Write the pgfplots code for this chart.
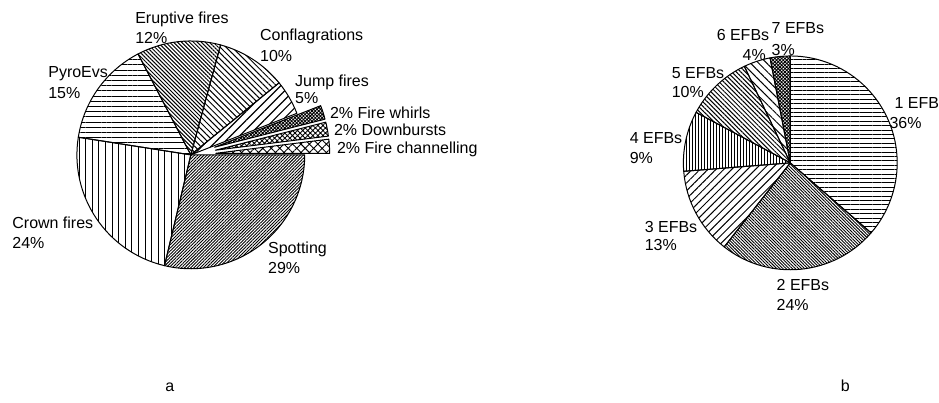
\documentclass[border=0pt]{standalone}
\usepackage{fontspec}
\setmainfont{Liberation Sans}
\usepackage{pgfplots}
\usepackage{pgfplotstable}
\pgfplotsset{compat=1.18}
\usetikzlibrary{patterns.meta}

% Fire behaviour types (a): share in %, explode offset, label positions
% (name x, name y, percent x, percent y); inline=1 puts "pct% name" on one line
\pgfplotstableread[col sep=comma]{
name,pct,explode,nx,ny,px,py,inline
Spotting,29,0,268,248,268,268,0
Crown fires,24,0,12,223,12,243,0
PyroEvs,15,0,48,72,48,93,0
Eruptive fires,12,0,135,18,135,38,0
Conflagrations,10,0,260,35,260,56,0
Jump fires,5,0,295,81,295,98,0
Fire whirls,2,25,330,113,0,0,1
Downbursts,2,25,334,130,0,0,1
Fire channelling,2,25,337,148,0,0,1
}\behaviours

% Number of extreme fire behaviours per event (b)
\pgfplotstableread[col sep=comma]{
name,pct,explode,nx,ny,px,py,inline
1 EFB,36,0,895,103,890,123,0
2 EFBs,24,0,777,285,777,305,0
3 EFBs,13,0,645,227,645,245,0
4 EFBs,9,0,630,138,630,158,0
5 EFBs,10,0,672,73,672,92,0
6 EFBs,4,0,717,35,743,55,0
7 EFBs,3,0,772,28,772,50,0
}\counts

\tikzset{
  sa0/.style={pattern={Lines[angle=45,distance=1.1pt,line width=0.45pt]}},
  sa1/.style={pattern={Lines[angle=90,distance=3.3pt,line width=0.5pt]}},
  sa2/.style={pattern={Lines[angle=0,distance=2.6pt,line width=0.5pt]}},
  sa3/.style={pattern={Lines[angle=-45,distance=1.4pt,line width=0.5pt]}},
  sa4/.style={pattern={Lines[angle=-45,distance=2.1pt,line width=0.5pt]}},
  sa5/.style={pattern={Lines[angle=45,distance=3.2pt,line width=0.6pt]}},
  sa6/.style={pattern={Hatch[angle=45,distance=1.2pt,line width=0.45pt]}},
  sa7/.style={pattern={Hatch[angle=45,distance=1.8pt,line width=0.45pt]}},
  sa8/.style={pattern={Hatch[angle=45,distance=3pt,line width=0.45pt]}},
  sb0/.style={pattern={Lines[angle=0,distance=2.2pt,line width=0.5pt]}},
  sb1/.style={pattern={Lines[angle=-45,distance=1.1pt,line width=0.45pt]}},
  sb2/.style={pattern={Lines[angle=45,distance=2.8pt,line width=0.5pt]}},
  sb3/.style={pattern={Lines[angle=90,distance=1.5pt,line width=0.5pt]}},
  sb4/.style={pattern={Lines[angle=-45,distance=1.6pt,line width=0.5pt]}},
  sb5/.style={pattern={Lines[angle=-45,distance=2.9pt,line width=0.5pt]}},
  sb6/.style={pattern={Hatch[angle=45,distance=1.2pt,line width=0.45pt]}},
  lbl/.style={anchor=base west,inner sep=0pt,font=\fontsize{8}{9}\selectfont},
}

% #1 table, #2 centre x, #3 centre y, #4 radius, #5 start angle, #6 style prefix
% slices run clockwise; coordinates are in image pixels (1 unit = 0.5pt)
\newcommand\drawpie[6]{%
  \pgfplotstablegetrowsof{#1}%
  \pgfmathtruncatemacro\nlast{\pgfplotsretval-1}%
  \def\total{0}%
  \pgfplotsforeachungrouped \i in {0,...,\nlast}{%
    \pgfplotstablegetelem{\i}{pct}\of{#1}%
    \pgfmathsetmacro\total{\total+\pgfplotsretval}%
  }%
  \pgfmathsetmacro\deg{360/\total}%
  \def\cum{0}%
  \pgfplotsforeachungrouped \i in {0,...,\nlast}{%
    \pgfplotstablegetelem{\i}{pct}\of{#1}\let\p\pgfplotsretval
    \pgfplotstablegetelem{\i}{explode}\of{#1}\let\ex\pgfplotsretval
    \pgfmathsetmacro\aS{#5-\deg*\cum}%
    \pgfmathsetmacro\aE{#5-\deg*(\cum+\p)}%
    \pgfmathsetmacro\aM{(\aS+\aE)/2}%
    \pgfmathsetmacro\ox{#2+\ex*cos(\aM)}%
    \pgfmathsetmacro\oy{#3+\ex*sin(\aM)}%
    \pgfmathsetmacro\sx{\ox+#4*cos(\aS)}%
    \pgfmathsetmacro\sy{\oy+#4*sin(\aS)}%
    \pgfmathsetmacro\rr{#4*0.5}%
    \edef\doslice{\noexpand\path[#6\i,draw=black,line width=0.5pt,line join=round]
      (axis cs:\ox,\oy) -- (axis cs:\sx,\sy)
      arc[start angle=\aS,end angle=\aE,radius=\rr pt] -- cycle;}%
    \doslice
    \pgfplotstablegetelem{\i}{name}\of{#1}\let\nm\pgfplotsretval
    \pgfplotstablegetelem{\i}{nx}\of{#1}\let\nx\pgfplotsretval
    \pgfplotstablegetelem{\i}{ny}\of{#1}\let\ny\pgfplotsretval
    \pgfplotstablegetelem{\i}{px}\of{#1}\let\px\pgfplotsretval
    \pgfplotstablegetelem{\i}{py}\of{#1}\let\py\pgfplotsretval
    \pgfplotstablegetelem{\i}{inline}\of{#1}\let\inl\pgfplotsretval
    \pgfmathsetmacro\nyy{397.3-\ny}%
    \pgfmathsetmacro\pyy{397.3-\py}%
    \ifnum\inl=1
      \edef\dolabel{\noexpand\node[lbl] at (axis cs:\nx,\nyy) {\p\noexpand\% \nm};}%
    \else
      \edef\dolabel{\noexpand\node[lbl] at (axis cs:\nx,\nyy) {\nm};
        \noexpand\node[lbl] at (axis cs:\px,\pyy) {\p\noexpand\%};}%
    \fi
    \dolabel
    \pgfmathsetmacro\cum{\cum+\p}%
  }%
}

\begin{document}
\begin{tikzpicture}
\begin{axis}[
  x=0.5pt, y=0.5pt,
  xmin=0, xmax=939, ymin=0, ymax=403,
  hide axis, clip=false,
]
\path (axis cs:0,0) rectangle (axis cs:939,403);
\pgfplotsextra{%
  \drawpie{\behaviours}{191}{248}{114}{0}{sa}%
  \drawpie{\counts}{791}{240}{107}{90}{sb}%
}
\node[anchor=base,inner sep=0pt,font=\fontsize{8}{9}\selectfont] at (axis cs:170,11) {a};
\node[anchor=base,inner sep=0pt,font=\fontsize{8}{9}\selectfont] at (axis cs:846,11) {b};
\end{axis}
\end{tikzpicture}
\end{document}
